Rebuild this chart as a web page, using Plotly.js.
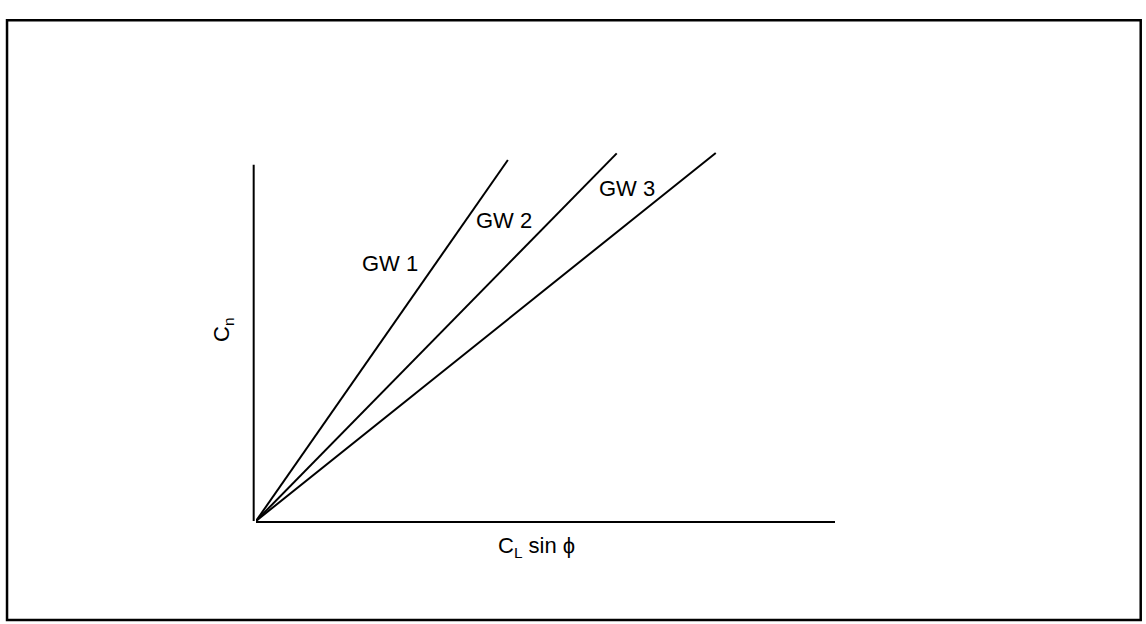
<!DOCTYPE html>
<html>
<head>
<meta charset="utf-8">
<script src="https://cdn.plot.ly/plotly-3.0.1.min.js"></script>
<style>html,body{margin:0;padding:0;background:#fff;}#chart{width:1146px;height:624px;}</style>
</head>
<body>
<div id="chart"></div>
<script>
// Schematic data (arbitrary units): each GW line starts at origin
const seriesNames = ["GW 1", "GW 2", "GW 3"];
const gw1X = [0, 0.435], gw1Y = [0, 0.973];
const gw2X = [0, 0.623], gw2Y = [0, 0.991];
const gw3X = [0, 0.794], gw3Y = [0, 0.992];
const labelX = [0.231, 0.428, 0.641];
const labelY = [0.693, 0.809, 0.895];
const yAxisTop = 0.96;
const xTitle = "C<sub>L</sub> sin ϕ";
const yTitle = "C<sub>n</sub>";

const lineStyle = {color: "#000", width: 2};
const traces = [
  {x: gw1X, y: gw1Y, name: seriesNames[0]},
  {x: gw2X, y: gw2Y, name: seriesNames[1]},
  {x: gw3X, y: gw3Y, name: seriesNames[2]}
].map(t => Object.assign(t, {type: "scatter", mode: "lines", line: lineStyle, hoverinfo: "skip"}));

const font = {family: "Liberation Sans, Arial, sans-serif", size: 22, color: "#000"};
const annotations = seriesNames.map((s, i) => ({
  x: labelX[i], y: labelY[i], xref: "x", yref: "y", text: s, showarrow: false, font: font,
  xanchor: "center", yanchor: "middle"
}));
annotations.push({x: 0.4836, y: -0.07, xref: "paper", yref: "paper", text: xTitle, showarrow: false, font: font,
  xanchor: "center", yanchor: "middle"});
annotations.push({x: -0.057, y: 0.515, xref: "paper", yref: "paper", text: yTitle, showarrow: false, font: font,
  textangle: -90, xanchor: "center", yanchor: "middle"});

const layout = {
  width: 1146, height: 624,
  margin: {l: 256, r: 311, t: 150, b: 103, pad: 0},
  paper_bgcolor: "#fff", plot_bgcolor: "#fff",
  showlegend: false,
  xaxis: {range: [0, 1], showgrid: false, zeroline: false, showticklabels: false, ticks: "",
          showline: true, linecolor: "#000", linewidth: 2},
  yaxis: {range: [0, 1], showgrid: false, zeroline: false, showticklabels: false, ticks: "", showline: false},
  annotations: annotations,
  shapes: [
    {type: "line", xref: "paper", yref: "paper", x0: -0.004, x1: -0.004, y0: 0, y1: yAxisTop, line: {color: "#000", width: 2}},
    {type: "rect", xref: "paper", yref: "paper", x0: -0.430, x1: 1.528, y0: -0.267, y1: 1.35,
     line: {color: "#000", width: 2.5}, fillcolor: "rgba(0,0,0,0)"}
  ]
};
Plotly.newPlot("chart", traces, layout, {staticPlot: true, displayModeBar: false});
</script>
</body>
</html>
